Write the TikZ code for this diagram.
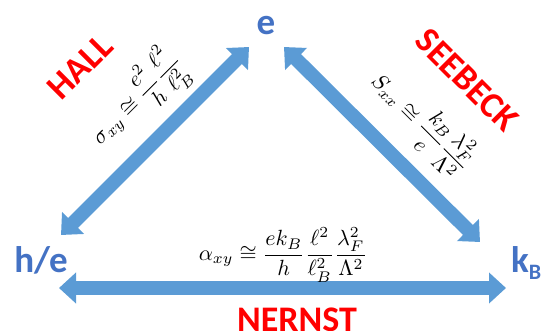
\documentclass[tikz,border=0pt]{standalone}
\usepackage{amsmath}
\usepackage{fontspec}
\newfontfamily\calib{Carlito}
\usetikzlibrary{arrows.meta}
\definecolor{arrcol}{RGB}{91,155,213}
\definecolor{vcol}{RGB}{68,114,196}
\definecolor{ecol}{RGB}{255,0,0}
\begin{document}
\begin{tikzpicture}[x=1pt,y=-1pt,
  dbl/.style={line width=14pt, draw=arrcol, {Triangle[width=30pt,length=17pt]}-{Triangle[width=30pt,length=17pt]}},
  vert/.style={font=\calib\bfseries\fontsize{37}{40}\selectfont, text=vcol, inner sep=0pt},
  effect/.style={font=\calib\bfseries\fontsize{36}{40}\selectfont, text=ecol, inner sep=0pt},
  formula/.style={font=\normalsize, inner sep=0pt, scale=2.2}]
\useasboundingbox (0,0) rectangle (543,331);
% vertices
\node[vert, anchor=base] (e) at (266,35) {e};
\node[vert, anchor=base] (he) at (41,272) {h/e};
\node[vert, anchor=base west] (kB) at (511,272) {k\raisebox{-7pt}{\fontsize{22}{22}\selectfont B}};
% arrow ends
\coordinate (L1) at (61,235); \coordinate (L2) at (249,47);
\coordinate (R1) at (284,47); \coordinate (R2) at (480,242);
\coordinate (B1) at (59,288); \coordinate (B2) at (506,288);
\draw[dbl] (L1) -- (L2);
\draw[dbl] (R1) -- (R2);
\draw[dbl] (B1) -- (B2);
% effect names
\node[effect, rotate=45] (hall) at (80,67) {HALL};
\node[effect, rotate=-45] (seebeck) at (467,80) {SEEBECK};
\node[effect, anchor=base] (nernst) at (297,331) {NERNST};
% formulas
\node[formula, rotate=45] (fh) at (138,100) {$\displaystyle \sigma_{xy}\cong\frac{e^2}{h}\frac{\ell^2}{\ell_B^2}$};
\node[formula, rotate=-45] (fs) at (422,122) {$\displaystyle S_{xx}\cong\frac{k_B}{e}\frac{\lambda_F^2}{\Lambda^2}$};
\node[formula] (fn) at (283,255) {$\displaystyle \alpha_{xy}\cong\frac{ek_B}{h}\frac{\ell^2}{\ell_B^2}\frac{\lambda_F^2}{\Lambda^2}$};
\end{tikzpicture}
\end{document}
